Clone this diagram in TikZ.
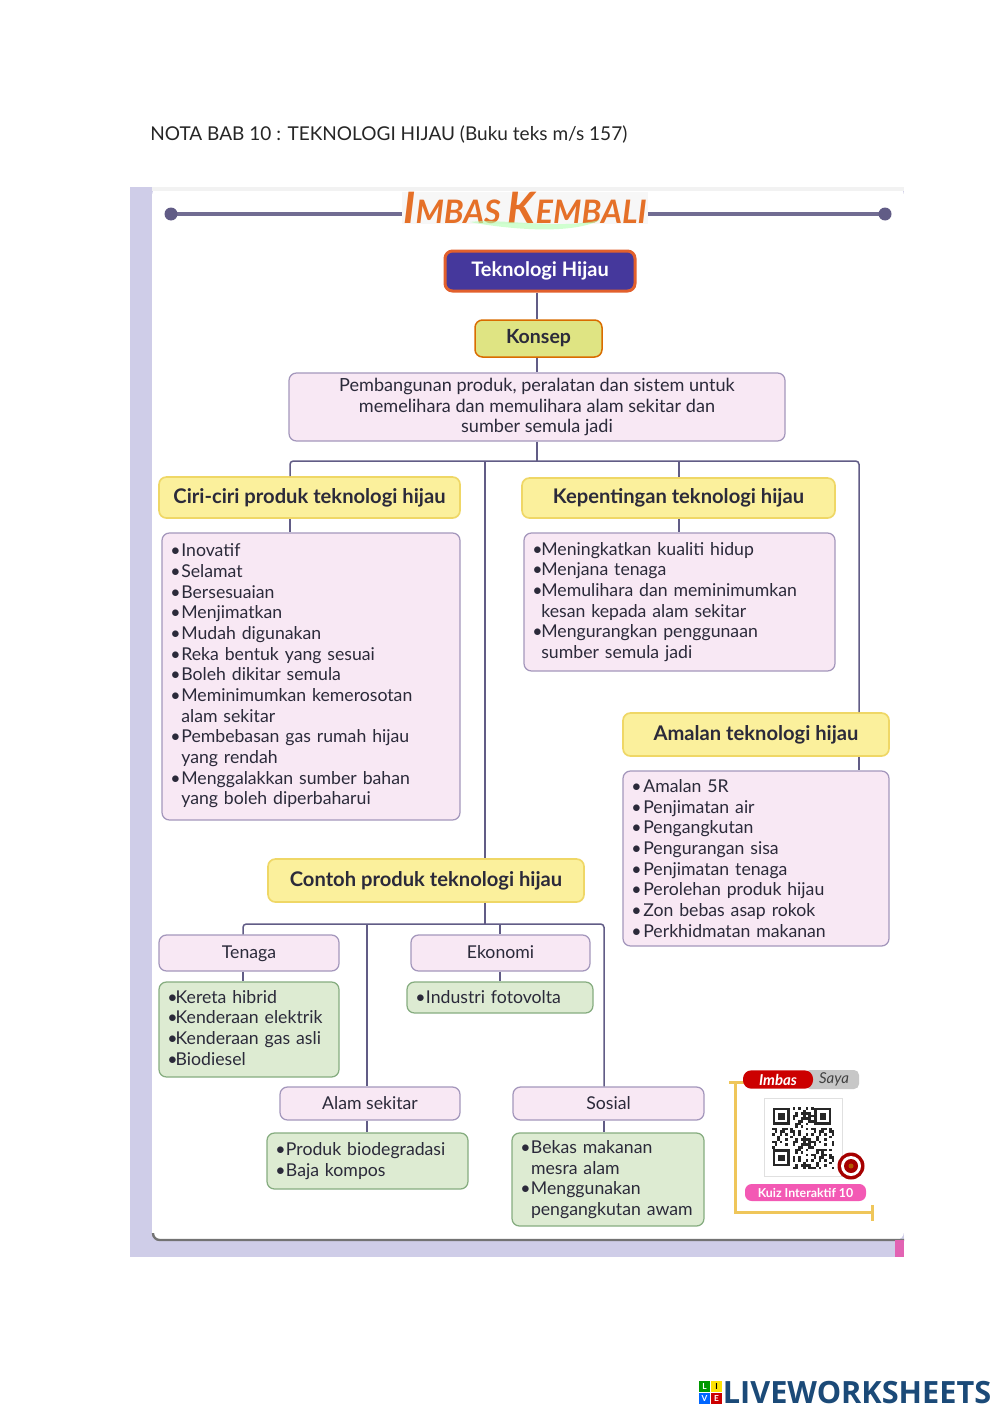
\documentclass[tikz,border=0pt]{standalone}
\usepackage{fontspec}
\setmainfont{Lato}
\newfontfamily\logofont{Open Sans}
\usetikzlibrary{calc}
\definecolor{lav}{HTML}{CFCDE8}
\definecolor{lin}{HTML}{615C86}
\definecolor{ink}{HTML}{2B2A3A}
\definecolor{pinkf}{HTML}{F8E8F4}
\definecolor{pinkd}{HTML}{A497BC}
\definecolor{yelf}{HTML}{FBF09C}
\definecolor{yeld}{HTML}{EFD766}
\definecolor{grnf}{HTML}{DDEBD2}
\definecolor{grnd}{HTML}{86AD80}
\definecolor{indigo}{HTML}{45389C}
\definecolor{orng}{HTML}{E2602C}
\definecolor{navy}{HTML}{1B4A78}
\definecolor{goldl}{HTML}{EFC65A}
\definecolor{konf}{HTML}{DFE483}
\newcommand{\abox}[7]{%
  \pgfmathsetmacro{\cxx}{(#3+#5)/2}\pgfmathsetmacro{\cyy}{(#4+#6)/2}%
  \node[#2,minimum width={(#5-#3)*0.6pt},minimum height={(#6-#4)*0.6pt}] (#1) at (\cxx,\cyy) {#7};}
\newcommand{\li}[2]{\makebox[#1][l]{\textbullet}#2}
\newcommand{\co}[2]{\hspace*{#1}#2}
\tikzset{
  all/.style={rounded corners=4.5pt,line width=0.75pt,inner sep=0pt,text=ink,font=\fontsize{10.6}{12.4}\selectfont},
  heading/.style={all,fill=yelf,draw=yeld,line width=1pt,text height=9pt,text depth=2.4pt,font=\fontsize{12.1}{14}\selectfont\bfseries},
  pinkbox/.style={all,fill=pinkf,draw=pinkd},
  catbox/.style={pinkbox,text height=8.8pt,text depth=2pt},
  grnbox/.style={all,fill=grnf,draw=grnd},
  listbox/.style={align=left,text width={#1},inner xsep=5pt},
  conn/.style={draw=lin,line width=0.9pt,rounded corners=2pt},
  hline/.style={draw=lin!90!white,line width=2pt},
  gold/.style={draw=goldl,line width=1.8pt}
}
\begin{document}
\begin{tikzpicture}[x=0.6pt,y=-0.6pt]
\useasboundingbox (0,0) rectangle (1000,1413);
\fill[white] (0,0) rectangle (1000,1413);
% page
\fill[lav] (130,187) rectangle (904,1257);
\fill[white,rounded corners=5pt] (152,187) -- (152,1240) -- (904,1240) -- (904,187) -- cycle;
\fill[white!95!black] (152,187) rectangle (904,191);
\draw[black!55,line width=1.4pt,rounded corners=4pt] (153,1233) -- (153,1240) -- (904,1240);
\fill[magenta!55!lav] (895,1240) rectangle (904,1257);
% title
\node[anchor=base west,inner sep=0pt,text=black!85,font=\fontsize{11.42}{13}\selectfont] (title) at (150,140) {NOTA BAB 10 : TEKNOLOGI HIJAU (Buku teks m/s 157)};
% header
\coordinate (hl) at (171,214);
\coordinate (hr) at (885,214);
\draw[hline] (hl) -- (hr);
\fill[lin] (hl) circle (6.5);
\fill[lin] (hr) circle (6.5);
\node[fill=white!97!black,inner xsep=1pt,inner ysep=0pt,text=orng!90!yellow,font=\fontsize{19.4}{20}\selectfont\bfseries\itshape] (imbas) at (525,208) {{\fontsize{26}{26}\selectfont I}MBAS {\fontsize{26}{26}\selectfont K}EMBALI};
\fill[green!30!white,opacity=.6] (470,222) .. controls (500,218) and (560,230) .. (600,220) .. controls (570,236) and (500,228) .. cycle;
% top boxes
\abox{tek}{all,fill=indigo,draw=orng,line width=1.8pt,text=white,font=\fontsize{12}{13}\selectfont\bfseries}{445}{251}{635}{291}{Teknologi Hijau}
\abox{konsep}{all,fill=konf,draw=orange!85!black,line width=.9pt,text height=8.8pt,text depth=2.4pt,font=\fontsize{11.7}{13}\selectfont\bfseries}{475}{320}{602}{357}{Konsep}
\abox{def}{pinkbox,align=center,font=\fontsize{10.85}{12.4}\selectfont}{289}{373}{785}{441}{Pembangunan produk, peralatan dan sistem untuk\\memelihara dan memulihara alam sekitar dan\\sumber semula jadi}
% headings
\abox{ciri}{heading}{159}{477}{460}{518}{Ciri-ciri produk teknologi hijau}
\abox{kep}{heading}{522}{478}{835}{518}{Kepentingan teknologi hijau}
\abox{amalan}{heading}{623}{713}{889}{756}{Amalan teknologi hijau}
\abox{contoh}{heading}{268}{859}{584}{902}{Contoh produk teknologi hijau}
% lists
\abox{ciril}{pinkbox,listbox=168.8pt}{162}{533}{460}{820}{\li{6.6pt}{Inovatif}\\\li{6.6pt}{Selamat}\\\li{6.6pt}{Bersesuaian}\\\li{6.6pt}{Menjimatkan}\\\li{6.6pt}{Mudah digunakan}\\\li{6.6pt}{Reka bentuk yang sesuai}\\\li{6.6pt}{Boleh dikitar semula}\\\li{6.6pt}{Meminimumkan kemerosotan}\\\co{6.6pt}{alam sekitar}\\\li{6.6pt}{Pembebasan gas rumah hijau}\\\co{6.6pt}{yang rendah}\\\li{6.6pt}{Menggalakkan sumber bahan}\\\co{6.6pt}{yang boleh diperbaharui}\rule[-2.4pt]{0pt}{0pt}}
\abox{kepl}{pinkbox,listbox=176.6pt}{524}{533}{835}{671}{\li{5.4pt}{Meningkatkan kualiti hidup}\\\li{5.4pt}{Menjana tenaga}\\\li{5.4pt}{Memulihara dan meminimumkan}\\\co{5.4pt}{kesan kepada alam sekitar}\\\li{5.4pt}{Mengurangkan penggunaan}\\\co{5.4pt}{sumber semula jadi}}
\abox{amal}{pinkbox,listbox=149.6pt}{623}{771}{889}{946}{\li{7.2pt}{Amalan 5R}\\\li{7.2pt}{Penjimatan air}\\\li{7.2pt}{Pengangkutan}\\\li{7.2pt}{Pengurangan sisa}\\\li{7.2pt}{Penjimatan tenaga}\\\li{7.2pt}{Perolehan produk hijau}\\\li{7.2pt}{Zon bebas asap rokok}\\\li{7.2pt}{Perkhidmatan makanan}}
% categories
\abox{tenaga}{catbox}{159}{935}{339}{971}{Tenaga}
\abox{ekonomi}{catbox}{411}{935}{590}{971}{Ekonomi}
\abox{alam}{catbox}{280}{1087}{460}{1120}{Alam sekitar}
\abox{sosial}{catbox}{513}{1087}{704}{1120}{Sosial}
\abox{tenl}{grnbox,listbox=98pt}{159}{982}{339}{1077}{\li{5pt}{Kereta hibrid}\\\li{5pt}{Kenderaan elektrik}\\\li{5pt}{Kenderaan gas asli}\\\li{5pt}{Biodiesel}\rule[-2.4pt]{0pt}{0pt}}
\abox{ekol}{grnbox,listbox=101.6pt}{407}{982}{593}{1013}{\li{6.4pt}{Industri fotovolta}}
\abox{alal}{grnbox,listbox=110.6pt}{267}{1133}{468}{1189}{\li{6.4pt}{Produk biodegradasi}\\\li{6.4pt}{Baja kompos}}
\abox{sosl}{grnbox,listbox=105.2pt}{512}{1133}{704}{1226}{\li{6.4pt}{Bekas makanan}\\\co{6.4pt}{mesra alam}\\\li{6.4pt}{Menggunakan}\\\co{6.4pt}{pengangkutan awam}}
% bus coordinates
\coordinate (a) at (290,461);
\coordinate (b) at (485,461);
\coordinate (c) at (537,461);
\coordinate (d) at (679,461);
\coordinate (e) at (859,461);
\coordinate (f) at (243,924);
\coordinate (g) at (367,924);
\coordinate (h) at (485,924);
\coordinate (i) at (500,924);
\coordinate (j) at (604,924);
% connectors
\draw[conn] (c |- tek.south) -- (c |- konsep.north);
\draw[conn] (c |- konsep.south) -- (c |- def.north);
\draw[conn] (c |- def.south) -- (c);
\draw[conn] (a |- ciri.north) -- (a) -- (e) -- (e |- amalan.north);
\draw[conn] (a |- ciri.south) -- (a |- ciril.north);
\draw[conn] (b) -- (b |- contoh.north);
\draw[conn] (d) -- (d |- kep.north);
\draw[conn] (d |- kep.south) -- (d |- kepl.north);
\draw[conn] (e |- amalan.south) -- (e |- amal.north);
\draw[conn] (h |- contoh.south) -- (h);
\draw[conn] (f |- tenaga.north) -- (f) -- (j) -- (j |- sosial.north);
\draw[conn] (g) -- (g |- alam.north);
\draw[conn] (i) -- (i |- ekonomi.north);
\draw[conn] (f |- tenaga.south) -- (f |- tenl.north);
\draw[conn] (i |- ekonomi.south) -- (i |- ekol.north);
\draw[conn] (g |- alam.south) -- (g |- alal.north);
\draw[conn] (j |- sosial.south) -- (j |- sosl.north);
% Imbas Saya
\coordinate (y1) at (729,1082);
\coordinate (y2) at (735,1082);
\coordinate (y3) at (735,1212);
\coordinate (y4) at (872,1212);
\draw[gold] (y1) -- (745,1082);
\draw[gold] (y2) -- (y3) -- (y4);
\draw[gold] (872,1205) -- (872,1221);
\fill[black!22,rounded corners=3pt] (805,1070) rectangle (859,1089);
\node[fill=red!80!black,rounded corners=5pt,inner sep=0pt,minimum width=42pt,minimum height=11pt,text=white,font=\fontsize{9}{10}\selectfont\bfseries\itshape] (imb) at (778,1079.5) {Imbas};
\node[inner sep=0pt,text=black!75,font=\fontsize{9}{10}\selectfont\itshape] (saya) at (834,1079.5) {Saya};
\node[fill=white,draw=black!12,line width=.5pt,minimum width=46.8pt,minimum height=46.8pt,inner sep=0pt] (qr) at (803,1137) {};
\foreach \i in {0,...,23}{\foreach \j in {0,...,23}{
  \pgfmathtruncatemacro{\v}{mod(\i*\i*3+\j*\j*5+\i*\j*7+\i+2*\j+int(\i/3)*int(\j/2),5)}
  \pgfmathtruncatemacro{\inf}{(\i<8 && \j<8) || (\i>15 && \j<8) || (\i<8 && \j>15)}
  \ifnum\inf=0 \ifnum\v<2 \fill[black!85] (772+\i*2.6,1107+\j*2.6) rectangle ++(2.6,2.6); \fi\fi
}}
\foreach \x/\y in {772/1107,813.6/1107,772/1148.6}{
  \draw[black!85,line width=1.5pt] (\x+2,\y+2) rectangle (\x+16.5,\y+16.5);
  \fill[black!85] (\x+6,\y+6) rectangle (\x+12.5,\y+12.5);
}
\fill[red!65!black] (851,1166) circle (13.5);
\fill[white] (851,1166) circle (10);
\fill[red!65!black] (851,1166) circle (7);
\fill[orange!70!black] (851,1166) circle (2.5);
\node[fill=magenta!65!white,rounded corners=4pt,minimum width=72.6pt,minimum height=10.2pt,inner sep=0pt,text=white,font=\fontsize{7.4}{8}\selectfont\bfseries] (kuiz) at (805.5,1192.5) {Kuiz Interaktif 10};
% logo
\fill[green!60!black] (699,1381) rectangle (710,1392);
\fill[yellow!85!orange] (711,1381) rectangle (722,1392);
\fill[blue!60!cyan] (699,1393) rectangle (710,1404);
\fill[red!80!black] (711,1393) rectangle (722,1404);
\node[text=white,inner sep=0pt,font=\fontsize{5}{5}\selectfont\bfseries] (l1) at (704.5,1386.5) {L};
\node[text=black,inner sep=0pt,font=\fontsize{5}{5}\selectfont\bfseries] (l2) at (716.5,1386.5) {I};
\node[text=white,inner sep=0pt,font=\fontsize{5}{5}\selectfont\bfseries] (l3) at (704.5,1398.5) {V};
\node[text=white,inner sep=0pt,font=\fontsize{5}{5}\selectfont\bfseries] (l4) at (716.5,1398.5) {E};
\node[anchor=base west,inner sep=0pt,text=navy,font=\logofont\fontsize{18.4}{20}\selectfont\bfseries] (lw) at (722.5,1403) {LIVEWORKSHEETS};
\end{tikzpicture}
\end{document}
